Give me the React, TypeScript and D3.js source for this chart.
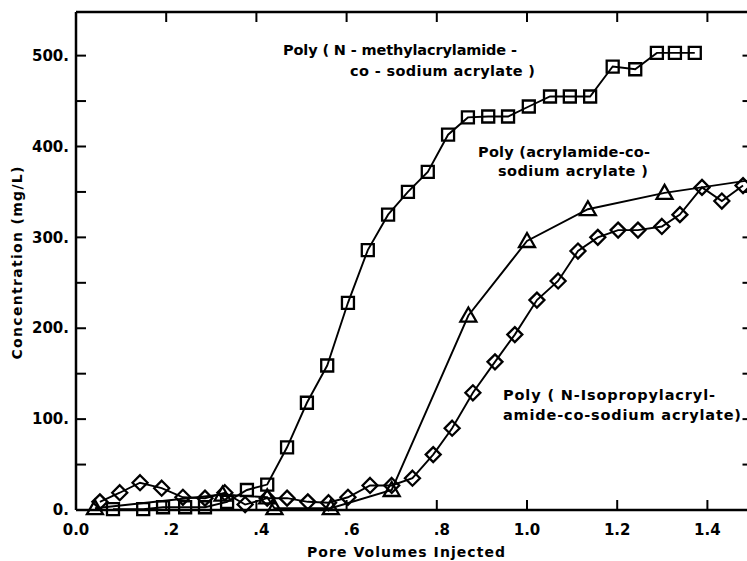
import React from 'react';
import * as d3 from 'd3';

// N-methylacrylamide copolymer (squares)
const squareX = [0.082, 0.149, 0.193, 0.242, 0.286, 0.335, 0.379, 0.424, 0.468, 0.512, 0.557, 0.603, 0.647, 0.692, 0.736, 0.78, 0.825, 0.869, 0.914, 0.958, 1.004, 1.051, 1.095, 1.14, 1.19, 1.24, 1.288, 1.328, 1.372];
const squareY = [1, 1, 3, 3, 3, 9, 22, 28, 69, 118, 159, 228, 286, 325, 350, 372, 413, 432, 433, 433, 444, 455, 455, 455, 488, 485, 503, 503, 503];

// acrylamide copolymer (triangles)
const triangleX = [0.042, 0.325, 0.424, 0.44, 0.565, 0.7, 0.87, 1.0, 1.135, 1.305, 1.55];
const triangleY = [2, 17, 14, 2, 2, 22, 214, 296, 331, 349, 367];

// N-isopropylacrylamide copolymer (diamonds)
const diamondX = [0.053, 0.097, 0.142, 0.19, 0.237, 0.286, 0.33, 0.375, 0.424, 0.468, 0.514, 0.56, 0.603, 0.652, 0.7, 0.746, 0.792, 0.834, 0.88, 0.929, 0.973, 1.022, 1.069, 1.113, 1.157, 1.202, 1.246, 1.299, 1.339, 1.388, 1.432, 1.479];
const diamondY = [9, 19, 30, 24, 14, 13, 19, 6, 13, 13, 9, 8, 14, 27, 27, 35, 61, 90, 129, 163, 193, 231, 252, 285, 300, 308, 308, 312, 325, 355, 340, 357];

const xTickValues = [0, 0.2, 0.4, 0.6, 0.8, 1.0, 1.2, 1.4];
const xTickLabels = ['0.0', '.2', '.4', '.6', '.8', '1.0', '1.2', '1.4'];
const yTickValues = [0, 100, 200, 300, 400, 500];
const yTickLabels = ['0.', '100.', '200.', '300.', '400.', '500.'];
const yMinorValues = [0, 50, 100, 150, 200, 250, 300, 350, 400, 450, 500];

const W = 747;
const H = 561;
const FONT = '"DejaVu Sans", Verdana, sans-serif';

const x = d3.scaleLinear().domain([0, 1.5]).range([76, 752.5]);
const y = d3.scaleLinear().domain([0, 548]).range([510, 12]);

const markers = {
  square: 'M-6,-6h12v12h-12Z',
  diamond: 'M0,-7.5L7.5,0L0,7.5L-7.5,0Z',
  triangle: 'M0,-8L8,6L-8,6Z',
};

const Series = ({ xs, ys, shape }: { xs: number[]; ys: number[]; shape: keyof typeof markers }) => {
  const pts = xs.map((v, i) => [v, ys[i]] as [number, number]);
  const line = d3.line<[number, number]>().x(d => x(d[0])).y(d => y(d[1]));
  return (
    <g>
      <path d={line(pts) || ''} fill="none" stroke="#000" strokeWidth={1.9} />
      {pts.map((p, i) => (
        <path key={i} d={markers[shape]} transform={`translate(${x(p[0])},${y(p[1])})`}
          fill="none" stroke="#000" strokeWidth={2.3} />
      ))}
    </g>
  );
};

export default function App() {
  const x0 = x(0), x1 = x(1.5), yb = y(0), yt = y(548);
  return (
    <svg width={W} height={H} style={{ position: 'absolute', left: 0, top: 0, background: '#fff' }}
      fontFamily={FONT} fontWeight="bold">
      {/* frame */}
      <g stroke="#000" strokeWidth={2.5} fill="none">
        <line x1={x0} y1={yt} x2={x0} y2={yb} />
        <line x1={x0} y1={yb} x2={x1} y2={yb} />
        <line x1={x0} y1={yt} x2={x1} y2={yt} />
        <line x1={x1} y1={yt} x2={x1} y2={yb} />
      </g>
      <g stroke="#000" strokeWidth={2}>
        {yMinorValues.map(v => (
          <line key={'l' + v} x1={x0} x2={x0 + 10} y1={y(v)} y2={y(v)} />
        ))}
        {yMinorValues.map(v => (
          <line key={'r' + v} x1={x1 - 10} x2={x1} y1={y(v)} y2={y(v)} />
        ))}
        {xTickValues.slice(1).map(v => (
          <line key={'b' + v} x1={x(v)} x2={x(v)} y1={yb} y2={yb - 10} />
        ))}
        {xTickValues.slice(1).map(v => (
          <line key={'t' + v} x1={x(v)} x2={x(v)} y1={yt} y2={yt + 10} />
        ))}
      </g>
      <g fontSize={15} fill="#000">
        {yTickValues.map((v, i) => (
          <text key={v} x={69} y={y(v)} dy="0.35em" textAnchor="end">{yTickLabels[i]}</text>
        ))}
        {xTickValues.map((v, i) => (
          <text key={v} x={x(v) + (xTickLabels[i].startsWith('.') ? 5 : 0)} y={530} dy="0.35em" textAnchor="middle">{xTickLabels[i]}</text>
        ))}
      </g>
      <text x={406} y={552} dy="0.35em" textAnchor="middle" fontSize={14} textLength={198}>Pore Volumes Injected</text>
      <text transform="translate(17,263) rotate(-90)" dy="0.35em" textAnchor="middle" fontSize={14} textLength={193}>Concentration (mg/L)</text>

      <Series xs={squareX} ys={squareY} shape="square" />
      <Series xs={triangleX} ys={triangleY} shape="triangle" />
      <Series xs={diamondX} ys={diamondY} shape="diamond" />

      <g fontSize={14.5} fill="#000">
        <text x={283} y={50} dy="0.35em" textLength={234}>Poly ( N - methylacrylamide -</text>
        <text x={350} y={71} dy="0.35em" textLength={185}>co - sodium acrylate )</text>
        <text x={478} y={152} dy="0.35em" textLength={172}>Poly (acrylamide-co-</text>
        <text x={498} y={171} dy="0.35em" textLength={150}>sodium acrylate )</text>
        <text x={503} y={395} dy="0.35em" textLength={212}>Poly ( N-Isopropylacryl-</text>
        <text x={503} y={415} dy="0.35em" textLength={238}>amide-co-sodium acrylate)</text>
      </g>
    </svg>
  );
}
